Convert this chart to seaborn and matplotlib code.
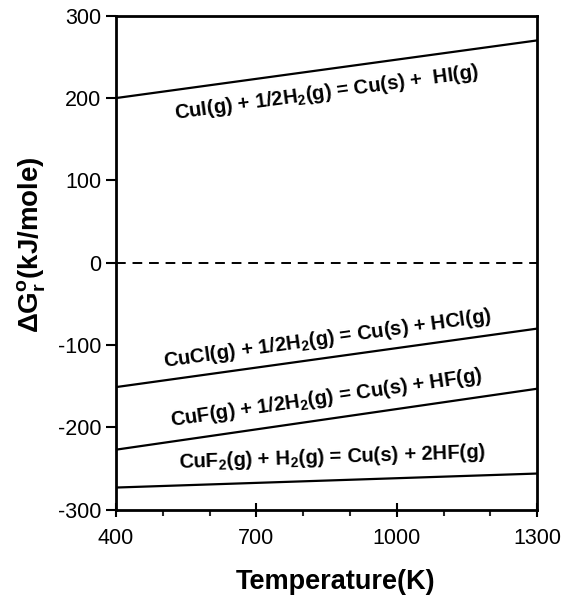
import numpy as np
import pandas as pd
import matplotlib
matplotlib.use('Agg')
import matplotlib.pyplot as plt
import seaborn as sns

sns.set_style('ticks')
plt.rcParams['font.family'] = ['Liberation Sans', 'DejaVu Sans']
plt.rcParams['mathtext.fontset'] = 'custom'
plt.rcParams['mathtext.rm'] = 'Liberation Sans:bold'
plt.rcParams['mathtext.bf'] = 'Liberation Sans:bold'
plt.rcParams['mathtext.default'] = 'rm'
plt.rcParams['axes.unicode_minus'] = False
plt.rcParams['text.color'] = 'black'
plt.rcParams['axes.labelcolor'] = 'black'

# end points of each reaction line (kJ/mole)
temperature = [400, 1300]
dg_cui = [200, 270]
dg_cucl = [-151, -80]
dg_cuf = [-227, -153]
dg_cuf2 = [-273, -256]
dg_zero = [0, 0]

reactions = ['CuI', 'CuCl', 'CuF', 'CuF2']
labels = [r'CuI(g) + 1/2H$_2$(g) = Cu(s) +  HI(g)',
          r'CuCl(g) + 1/2H$_2$(g) = Cu(s) + HCl(g)',
          r'CuF(g) + 1/2H$_2$(g) = Cu(s) + HF(g)',
          r'CuF$_2$(g) + H$_2$(g) = Cu(s) + 2HF(g)']
label_x = [851, 851, 849, 862]
label_y = [207, -92, -164, -237]

df = pd.DataFrame({
    'T': temperature * 4,
    'dG': dg_cui + dg_cucl + dg_cuf + dg_cuf2,
    'reaction': np.repeat(reactions, 2),
})

fig = plt.figure(figsize=(5.69, 6.04), dpi=100)
ax = fig.add_axes([0.204, 0.156, 0.74, 0.818])

sns.lineplot(data=df, x='T', y='dG', units='reaction', estimator=None,
             color='black', lw=1.6, ax=ax)
ax.plot(temperature, dg_zero, color='black', lw=1.4, ls=(0, (5, 3.5)))

ax.set_xlim(400, 1300)
ax.set_ylim(-300, 300)
ax.set_xticks([400, 700, 1000, 1300])
ax.set_xticks(np.arange(400, 1301, 100), minor=True)
ax.set_yticks(np.arange(-300, 301, 100))
ax.tick_params(axis='both', which='major', labelsize=15.5, width=1.5,
               length=7, color='black', labelcolor='black')
ax.tick_params(axis='x', which='major', direction='inout', length=10, pad=8)
ax.tick_params(axis='x', which='minor', length=4, width=1.5)
for s in ax.spines.values():
    s.set_linewidth(2)
    s.set_color('black')

ax.set_xlabel('Temperature(K)', fontsize=19.5, fontweight='bold')
ax.set_ylabel(r'$\Delta$G$^{\mathrm{o}}_{\mathrm{r}}$(kJ/mole)', fontsize=20,
              fontweight='bold')
ax.xaxis.set_label_coords(0.521, -0.119)
ax.yaxis.set_label_coords(-0.161, 0.536)

fig.canvas.draw()
lines = [dg_cui, dg_cucl, dg_cuf, dg_cuf2]
for lab, x, y, d in zip(labels, label_x, label_y, lines):
    p0 = ax.transData.transform((temperature[0], d[0]))
    p1 = ax.transData.transform((temperature[1], d[1]))
    ang = np.degrees(np.arctan2(p1[1] - p0[1], p1[0] - p0[0]))
    ax.text(x, y, lab, fontsize=14.5, fontweight='bold', rotation=ang,
            rotation_mode='anchor', ha='center', va='center')

fig.savefig('out.png', dpi=100)
